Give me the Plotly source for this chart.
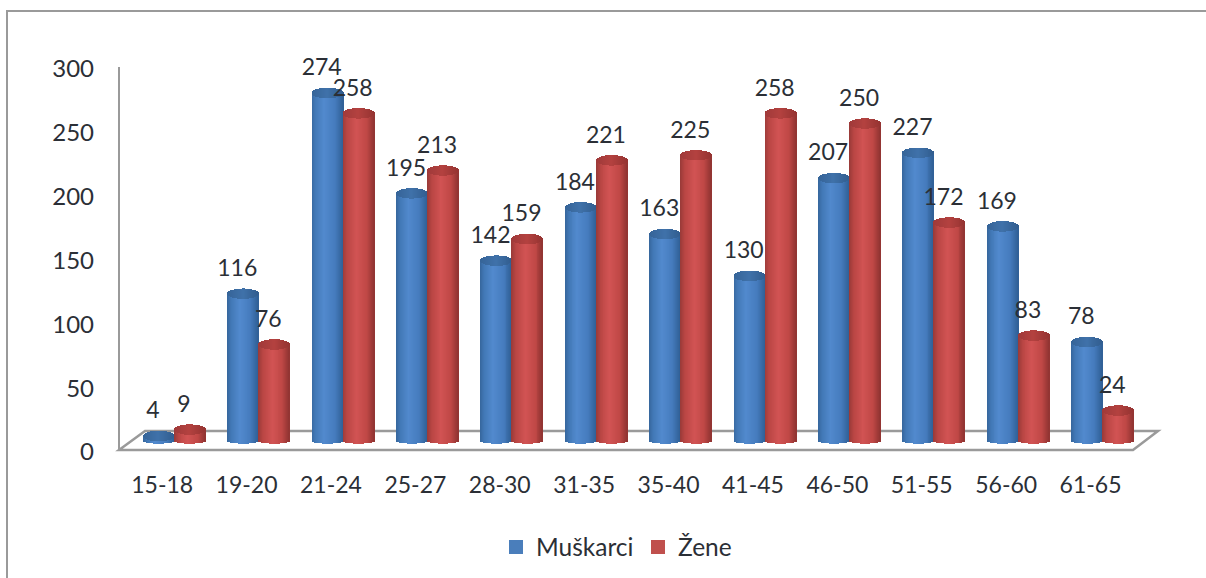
import math
import plotly.graph_objects as go

categories = ["15-18", "19-20", "21-24", "25-27", "28-30", "31-35", "35-40", "41-45", "46-50", "51-55", "56-60", "61-65"]
muskarci = [4, 116, 274, 195, 142, 184, 163, 130, 207, 227, 169, 78]
zene = [9, 76, 258, 213, 159, 221, 225, 258, 250, 172, 83, 24]
y_ticks = [0, 50, 100, 150, 200, 250, 300]

W, H = 1206, 578
L, R, T, B = 119, 1158, 69, 452      # plot box in page pixels
X0, STEP = 174.4, 84.4               # page x of first group's centre, px per group
Y0, PXU = 441.0, 1.27                # page y of value 0, px per unit
BAR = 31.0
TXT = "#2b2f36"
FONT = "Lato"

px2x = lambda p: (p - X0) / STEP
xr = [px2x(L), px2x(R)]
yr = [(Y0 - B) / PXU, (Y0 - T) / PXU]
fx = lambda p: (p - L) / (R - L)
fy = lambda p: (B - p) / (B - T)


def lerp(stops, t):
    for (a, ca), (b, cb) in zip(stops, stops[1:]):
        if t <= b:
            k = (t - a) / (b - a)
            return "rgb(%d,%d,%d)" % tuple(ca[i] + k * (cb[i] - ca[i]) for i in range(3))
    return "rgb(%d,%d,%d)" % stops[-1][1]


BLUE = [(-1, (54, 102, 156)), (-0.75, (66, 120, 182)), (-0.2, (82, 138, 206)), (0.5, (70, 124, 190)), (1, (48, 96, 150))]
RED = [(-1, (152, 58, 56)), (-0.7, (186, 70, 68)), (-0.1, (210, 84, 84)), (0.55, (192, 72, 70)), (1, (144, 52, 50))]
BLUE_CAP = [(-1, (54, 100, 152)), (0, (64, 114, 170)), (1, (50, 94, 144))]
RED_CAP = [(-1, (160, 58, 58)), (0, (180, 66, 64)), (1, (150, 52, 50))]

N = 32
TOP_E, BOT_E = 5.2 / PXU, 2.6 / PXU


def cylinder(values, side, stops, cap_stops):
    bx, by, bb, bc, cx, cy, cb, cc = [], [], [], [], [], [], [], []
    for i, v in enumerate(values):
        for s in range(N):
            t = (s + 0.5) / N * 2 - 1
            off = side * BAR / 2 + t * BAR / 2
            x = i + off / STEP
            root = math.sqrt(max(0, 1 - t * t))
            lo, hi = -BOT_E * root, v + TOP_E * root
            bx.append(x); bb.append(lo); by.append(hi - lo); bc.append(lerp(stops, t))
            clo = v - TOP_E * root
            cx.append(x); cb.append(clo); cy.append(hi - clo); cc.append(lerp(cap_stops, t))
    w = (BAR / N + 0.35) / STEP
    common = dict(width=w, marker_line_width=0, showlegend=False, hoverinfo="skip", cliponaxis=False)
    return [go.Bar(x=bx, y=by, base=bb, marker_color=bc, **common),
            go.Bar(x=cx, y=cy, base=cb, marker_color=cc, **common)]


fig = go.Figure()
for name, vals, side, col in [("Muškarci", muskarci, -1, "#4a7ebb"), ("Žene", zene, 1, "#c0504d")]:
    fig.add_trace(go.Bar(name=name, x=[i + side * BAR / 2 / STEP for i in range(12)], y=vals,
                         width=(BAR - 6) / STEP, marker=dict(color=col, line=dict(color=col, width=2))))
fig.add_traces(cylinder(muskarci, -1, BLUE, BLUE_CAP))
fig.add_traces(cylinder(zene, 1, RED, RED_CAP))

for vals, side in [(muskarci, -1), (zene, 1)]:
    fig.add_trace(go.Scatter(x=[i + (side * BAR / 2 - 6) / STEP for i in range(12)],
                             y=[v + 23.5 / PXU for v in vals], text=[str(v) for v in vals],
                             mode="text", textposition="middle center", cliponaxis=False,
                             textfont=dict(family=FONT, size=23, color=TXT), showlegend=False, hoverinfo="skip"))

floor = (f"M {fx(119)},{fy(450)} L {fx(1133)},{fy(450)} L {fx(R)},{fy(431)} L {fx(145)},{fy(431)} Z")
frame = f"M {fx(7)},{fy(H)} L {fx(7)},{fy(11)} L {fx(W)},{fy(11)}"
shapes = [
    dict(type="path", path=frame, xref="paper", yref="paper", line=dict(color="#9a9a9a", width=2), layer="below"),
    dict(type="path", path=floor, xref="paper", yref="paper", line=dict(color="#9a9a9a", width=2.5), layer="below"),
    dict(type="line", xref="paper", yref="paper", x0=0, x1=0, y0=fy(450), y1=fy(67), line=dict(color="#9a9a9a", width=2), layer="below"),
]

fig.update_layout(
    width=W, height=H, margin=dict(l=L, r=W - R, t=T, b=H - B, autoexpand=False),
    paper_bgcolor="white", plot_bgcolor="white", barmode="overlay", bargap=0,
    shapes=shapes,
    xaxis=dict(range=xr, showgrid=False, zeroline=False, showline=False,
               tickmode="array", tickvals=[i - 0.145 for i in range(12)], ticktext=categories,
               ticks="", ticklabelstandoff=17, tickfont=dict(family=FONT, size=23, color=TXT)),
    yaxis=dict(range=yr, visible=False),
    yaxis2=dict(range=[0, 300], overlaying="y", side="left", anchor="x", showgrid=False, zeroline=False,
                showline=False, tickmode="array", tickvals=y_ticks, ticks="", ticklabelstandoff=24,
                tickfont=dict(family=FONT, size=24, color=TXT)),
    legend=dict(orientation="h", x=fx(496), xanchor="left", y=fy(547), yanchor="middle", traceorder="normal",
                font=dict(family=FONT, size=24.5, color=TXT), itemclick=False, itemdoubleclick=False,
                entrywidth=97, entrywidthmode="pixels"),
    hovermode=False,
)
fig.add_trace(go.Scatter(x=[None], y=[None], yaxis="y2", showlegend=False, hoverinfo="skip"))
fig.write_html("out.html", post_script="document.body.style.margin='0';", config={"displayModeBar": False})
